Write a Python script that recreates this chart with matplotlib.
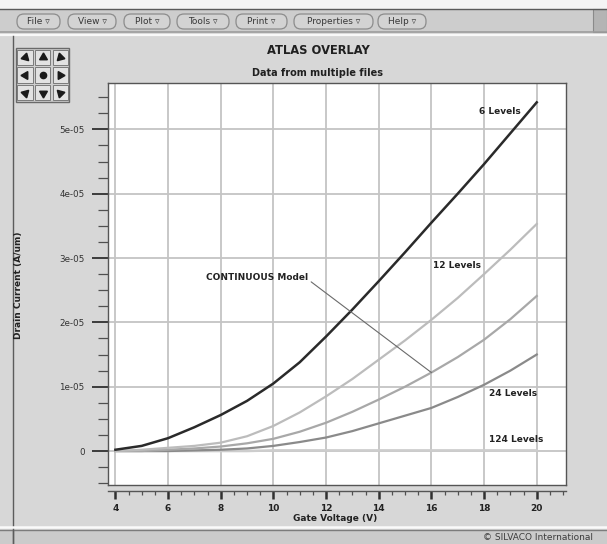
import matplotlib
matplotlib.use("Agg")
import matplotlib.pyplot as plt
from matplotlib.patches import Rectangle, FancyBboxPatch
from matplotlib.ticker import MultipleLocator, FuncFormatter

W, H = 607, 544

# gate voltage (V) and drain current (units of 1e-5 A/um)
gate_v = [4, 5, 6, 7, 8, 9, 10, 11, 12, 13, 14, 15, 16, 17, 18, 19, 20]
lev6 = [0.02, 0.08, 0.20, 0.37, 0.56, 0.78, 1.05, 1.38, 1.78, 2.20, 2.64, 3.09, 3.55, 4.00, 4.46, 4.94, 5.42]
lev12 = [0.00, 0.02, 0.05, 0.08, 0.13, 0.23, 0.39, 0.60, 0.85, 1.12, 1.42, 1.72, 2.04, 2.38, 2.75, 3.13, 3.53]
cont = [0.00, 0.00, 0.02, 0.04, 0.07, 0.12, 0.19, 0.30, 0.44, 0.61, 0.80, 1.00, 1.22, 1.46, 1.73, 2.05, 2.41]
lev24 = [0.00, 0.00, 0.00, 0.01, 0.02, 0.04, 0.08, 0.14, 0.21, 0.31, 0.43, 0.55, 0.67, 0.84, 1.03, 1.25, 1.50]
lev124 = [0.00, 0.00, 0.00, 0.00, 0.00, 0.00, 0.01, 0.01, 0.01, 0.01, 0.01, 0.01, 0.01, 0.01, 0.01, 0.01, 0.01]
S = 1e-5

menu_items = ["File", "View", "Plot", "Tools", "Print", "Properties", "Help"]
menu_span = [(17, 60), (68, 116), (124, 170), (177, 229), (236, 287), (294, 373), (378, 426)]

fig = plt.figure(figsize=(W / 100, H / 100), dpi=100)
fig.patch.set_facecolor("#d7d7d7")

# window chrome drawn in pixel coords
bg = fig.add_axes([0, 0, 1, 1], zorder=0)
bg.set_xlim(0, W)
bg.set_ylim(H, 0)
bg.axis("off")

bg.add_patch(Rectangle((0, 0), W, 8.5, fc="#f4f4f4", ec="none"))
bg.add_patch(Rectangle((0, 8.5), W, 23.5, fc="#cdcdcd", ec="none"))
bg.plot([0, W], [8.5, 8.5], color="#5a5a5a", lw=1)
bg.plot([0, W], [32, 32], color="#9c9c9c", lw=1.2)
bg.plot([0, W], [34.5, 34.5], color="#f8f8f8", lw=1.6)
bg.add_patch(Rectangle((593, 9), 14, 23, fc="#b4b4b4", ec="#8a8a8a", lw=0.8))

for name, (x0, x1) in zip(menu_items, menu_span):
    bg.add_patch(FancyBboxPatch((x0, 14), x1 - x0, 15,
                                boxstyle="round,pad=0,rounding_size=7",
                                fc="#d3d3d3", ec="#8c8c8c", lw=0.9))
    bg.text((x0 + x1) / 2, 21.5, name + " \u25bf", ha="center", va="center",
            fontsize=6.5, color="#383838")

# left frame line
bg.plot([12.7, 12.7], [35.5, H], color="#5c5c5c", lw=1)

# navigation widget
bg.add_patch(Rectangle((16, 48.3), 53.3, 53.4, fc="#cfcfcf", ec="#6a6a6a", lw=1))
cell = 53.3 / 3
angles = [[-135, 0, 135], [90, None, -90], [-45, 180, 45]]
for r in range(3):
    for c in range(3):
        cx = 16 + c * cell
        cy = 48.3 + r * cell
        bg.add_patch(Rectangle((cx + 1.2, cy + 1.2), cell - 2.4, cell - 2.4,
                               fc="#e2e2e2", ec="#7a7a7a", lw=0.7))
        a = angles[r][c]
        m = "o" if a is None else (3, 0, a)
        bg.plot(cx + cell / 2, cy + cell / 2, marker=m, ms=6.5 if a is not None else 4.5,
                color="#1a1a1a", mec="#1a1a1a")

bg.text(318, 51, "ATLAS OVERLAY", ha="center", va="center", fontsize=8.3,
        fontweight="bold", color="#202020")
bg.text(318, 73, "Data from multiple files", ha="center", va="center", fontsize=7,
        fontweight="bold", color="#202020")

# status bar
bg.plot([0, W], [526.8, 526.8], color="#fafafa", lw=1.8)
bg.add_patch(Rectangle((0, 529.5), W, H - 529.5, fc="#cbcbcb", ec="none"))
bg.plot([0, W], [529.5, 529.5], color="#7c7c7c", lw=1)
bg.plot([12.7, 12.7], [529.5, H], color="#5c5c5c", lw=1)
bg.text(483, 538, "\u00a9 SILVACO International", ha="left", va="center",
        fontsize=6.5, color="#3c3c3c")

# plot area
ax = fig.add_axes([108.3 / W, 1 - 485 / H, 457.4 / W, 401.7 / H], zorder=2)
ax.set_facecolor("white")

x = gate_v
ax.plot(x, [v * S for v in lev124], color="#cdcdcd", lw=1.8, zorder=3)
ax.plot(x, [v * S for v in lev24], color="#8a8a8a", lw=1.6, zorder=3)
ax.plot(x, [v * S for v in cont], color="#a8a8a8", lw=1.6, zorder=3)
ax.plot(x, [v * S for v in lev12], color="#bcbcbc", lw=1.6, zorder=3)
ax.plot(x, [v * S for v in lev6], color="#2a2a2a", lw=1.8, zorder=4)

ax.set_xlim(3.73, 21.1)
ax.set_ylim(-0.528e-5, 5.716e-5)

ax.xaxis.set_major_locator(MultipleLocator(2))
ax.xaxis.set_minor_locator(MultipleLocator(0.5))
ax.yaxis.set_major_locator(MultipleLocator(1e-5))
ax.yaxis.set_minor_locator(MultipleLocator(0.25e-5))
ax.yaxis.set_major_formatter(FuncFormatter(lambda v, p: "0" if abs(v) < 1e-12 else f"{v:.0e}"))
ax.xaxis.set_major_formatter(FuncFormatter(lambda v, p: f"{v:g}"))

ax.grid(True, which="major", color="#c4c4c4", lw=1.3, zorder=1)
ax.set_axisbelow(True)

for sp in ax.spines.values():
    sp.set_color("#555555")
    sp.set_linewidth(1)
ax.spines["bottom"].set_position(("outward", 4))
ax.plot([0, 1], [0, 0], transform=ax.transAxes, color="#555555", lw=1, clip_on=False)

ax.tick_params(axis="y", which="major", length=11.5, width=1.3, color="#303030",
               labelsize=6.3, labelcolor="#333333", pad=5.5)
ax.tick_params(axis="y", which="minor", length=7, width=0.9, color="#505050")
ax.tick_params(axis="x", which="major", length=5.5, width=1.8, color="#303030",
               labelsize=6.5, labelcolor="#222222", pad=4)
ax.tick_params(axis="x", which="minor", length=3, width=0.9, color="#505050")
for lab in ax.get_xticklabels():
    lab.set_fontweight("bold")

ax.set_xlabel("Gate Voltage (V)", fontsize=6.5, fontweight="bold", color="#222222")
ax.xaxis.set_label_coords(0.495, -0.072)
ax.set_ylabel("Drain Current (A/um)", fontsize=6.5, fontweight="bold", color="#222222")
ax.yaxis.set_label_coords(-0.186, 0.498)

lab_kw = dict(fontsize=6.5, fontweight="bold", color="#222222", va="center", ha="left", zorder=5)
ax.text(17.8, 5.28e-5, "6 Levels", **lab_kw)
ax.text(16.05, 2.89e-5, "12 Levels", **lab_kw)
ax.text(18.2, 0.90e-5, "24 Levels", **lab_kw)
ax.text(18.2, 0.18e-5, "124 Levels", **lab_kw)
ax.annotate("CONTINUOUS Model", xy=(x[12], cont[12] * S), xytext=(7.45, 2.69e-5),
            fontsize=6.5, fontweight="bold", color="#222222", va="center", ha="left",
            arrowprops=dict(arrowstyle="-", color="#6a6a6a", lw=0.8, relpos=(1, 0.3),
                            shrinkA=0, shrinkB=0), zorder=5)

fig.savefig("out.png", dpi=100, facecolor=fig.get_facecolor())
